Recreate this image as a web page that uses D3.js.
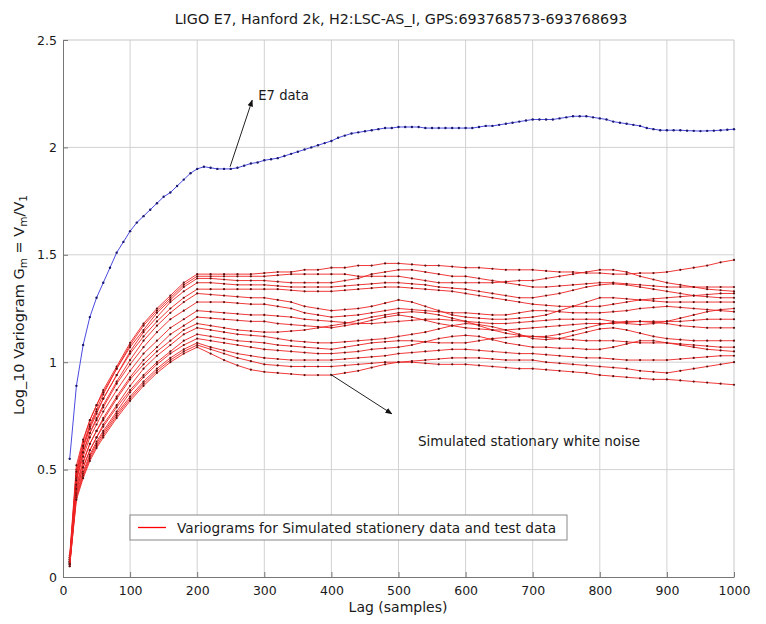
<!DOCTYPE html>
<html><head><meta charset="utf-8">
<script src="https://cdn.jsdelivr.net/npm/d3@7"></script>
<style>
body{margin:0;background:#fff}
text{font-family:"DejaVu Sans",Verdana,sans-serif;fill:#1a1a1a}
</style>
</head><body>
<svg id="c" width="766" height="624"></svg>
<script>
const titleText = "LIGO E7, Hanford 2k, H2:LSC-AS_I, GPS:693768573-693768693";
const xLabelText = "Lag (samples)";
const legendText = "Variograms for Simulated stationery data and test data";
const e7Label = "E7 data";
const noiseLabel = "Simulated stationary white noise";

const xTicks = [0,100,200,300,400,500,600,700,800,900,1000];
const yTicks = [0,0.5,1,1.5,2,2.5];
const yTickLabels = ["0","0.5","1","1.5","2","2.5"];

const e7Lag = [10,20,30,40,50,60,70,80,90,100,110,120,130,140,150,160,170,180,190,200,
210,220,230,240,250,260,270,280,290,300,310,320,330,340,350,360,370,380,390,400,
410,420,430,440,450,460,470,480,490,500,510,520,530,540,550,560,570,580,590,600,
610,620,630,640,650,660,670,680,690,700,710,720,730,740,750,760,770,780,790,800,
810,820,830,840,850,860,870,880,890,900,910,920,930,940,950,960,970,980,990,1000];
const e7Values = [0.55,0.89,1.08,1.21,1.30,1.37,1.44,1.51,1.56,1.61,
1.65,1.68,1.71,1.74,1.77,1.79,1.82,1.85,1.88,1.90,
1.91,1.905,1.90,1.90,1.90,1.905,1.915,1.925,1.93,1.94,
1.945,1.95,1.96,1.97,1.98,1.99,2.00,2.01,2.02,2.03,
2.045,2.055,2.065,2.07,2.075,2.08,2.085,2.09,2.09,2.095,
2.095,2.095,2.095,2.09,2.09,2.09,2.09,2.09,2.09,2.09,
2.09,2.095,2.10,2.10,2.105,2.11,2.115,2.12,2.125,2.13,
2.13,2.13,2.13,2.135,2.14,2.145,2.145,2.145,2.14,2.135,
2.13,2.12,2.115,2.11,2.105,2.10,2.09,2.085,2.08,2.08,
2.08,2.08,2.078,2.077,2.076,2.077,2.078,2.08,2.082,2.085];

const simLag = [10,20,30,40,50,60,80,100,120,140,160,180,
200,220,240,260,280,300,320,340,360,380,400,420,440,460,480,500,
520,540,560,580,600,620,640,660,680,700,720,740,760,780,800,
820,840,860,880,900,920,940,960,980,1000];

const simValues = [
[0.09,0.50,0.63,0.73,0.80,0.87,0.98,1.09,1.18,1.25,1.31,1.37, 1.41, 1.41,1.41,1.41,1.41,1.415, 1.42,1.42,1.43,1.43,1.44, 1.44,1.45,1.45,1.46,1.46, 1.455,1.45,1.45,1.445,1.44, 1.44,1.435,1.43,1.43,1.43, 1.425,1.42,1.42,1.415,1.415, 1.41,1.41,1.415,1.415,1.42, 1.43,1.44,1.45,1.465,1.476],
[0.08,0.48,0.61,0.71,0.78,0.85,0.97,1.08,1.17,1.24,1.30,1.36, 1.40, 1.40,1.40,1.40,1.40,1.40, 1.405,1.41,1.41,1.41,1.41, 1.41,1.40,1.40,1.40,1.40, 1.39,1.38,1.37,1.37,1.37, 1.37,1.37,1.375,1.38,1.38, 1.39,1.40,1.41,1.42,1.43, 1.43,1.42,1.40,1.385,1.37, 1.36,1.35,1.34,1.335,1.33],
[0.10,0.52,0.64,0.73,0.80,0.86,0.97,1.07,1.15,1.23,1.29,1.35, 1.39, 1.39,1.385,1.38,1.38,1.38, 1.375,1.37,1.37,1.37,1.37, 1.38,1.39,1.41,1.42,1.43, 1.43,1.42,1.41,1.40,1.40, 1.39,1.38,1.37,1.36,1.35, 1.35,1.355,1.36,1.365,1.37, 1.37,1.365,1.36,1.355,1.35, 1.35,1.35,1.35,1.35,1.35],
[0.07,0.47,0.60,0.69,0.76,0.83,0.94,1.05,1.14,1.21,1.28,1.33, 1.37, 1.37,1.365,1.36,1.36,1.36, 1.355,1.35,1.35,1.35,1.35, 1.355,1.36,1.365,1.37,1.37, 1.365,1.36,1.35,1.345,1.34, 1.33,1.32,1.31,1.30,1.30, 1.31,1.32,1.335,1.35,1.36, 1.365,1.36,1.35,1.34,1.33, 1.32,1.31,1.305,1.30,1.30],
[0.08,0.49,0.61,0.70,0.77,0.83,0.94,1.04,1.12,1.19,1.25,1.30, 1.34, 1.34,1.34,1.34,1.34,1.34, 1.34,1.335,1.33,1.33,1.33, 1.335,1.34,1.345,1.35,1.35, 1.345,1.34,1.335,1.33,1.32, 1.31,1.30,1.29,1.28,1.27, 1.265,1.26,1.26,1.26,1.26, 1.27,1.28,1.29,1.295,1.30, 1.305,1.31,1.315,1.32,1.32],
[0.06,0.45,0.58,0.67,0.74,0.80,0.91,1.01,1.10,1.17,1.23,1.28, 1.32, 1.315,1.31,1.305,1.30,1.30, 1.29,1.28,1.26,1.25,1.24, 1.245,1.25,1.26,1.275,1.29, 1.28,1.26,1.24,1.22,1.21, 1.205,1.20,1.20,1.205,1.21, 1.22,1.24,1.26,1.28,1.30, 1.30,1.295,1.29,1.285,1.28, 1.28,1.28,1.28,1.28,1.28],
[0.07,0.46,0.58,0.67,0.73,0.79,0.90,0.99,1.07,1.14,1.20,1.24, 1.28, 1.28,1.28,1.275,1.27,1.27, 1.26,1.25,1.23,1.22,1.21, 1.215,1.22,1.23,1.24,1.25, 1.245,1.24,1.235,1.23,1.23, 1.225,1.22,1.22,1.23,1.24, 1.24,1.235,1.23,1.23,1.23, 1.235,1.24,1.25,1.255,1.26, 1.255,1.25,1.245,1.24,1.235],
[0.09,0.45,0.56,0.65,0.71,0.77,0.87,0.96,1.04,1.10,1.16,1.20, 1.24, 1.235,1.23,1.225,1.22,1.22, 1.215,1.21,1.20,1.195,1.19, 1.185,1.18,1.18,1.185,1.19, 1.195,1.20,1.20,1.195,1.19, 1.185,1.18,1.18,1.185,1.19, 1.195,1.20,1.20,1.20,1.20, 1.19,1.18,1.175,1.18,1.19, 1.205,1.22,1.235,1.245,1.25],
[0.06,0.42,0.53,0.62,0.68,0.74,0.84,0.93,1.01,1.07,1.13,1.17, 1.21, 1.205,1.20,1.195,1.19,1.19, 1.18,1.175,1.17,1.165,1.16, 1.17,1.18,1.195,1.21,1.22, 1.21,1.195,1.18,1.17,1.16, 1.155,1.15,1.15,1.155,1.16, 1.165,1.17,1.175,1.18,1.18, 1.18,1.185,1.19,1.19,1.19, 1.19,1.195,1.20,1.20,1.20],
[0.07,0.43,0.54,0.62,0.68,0.73,0.83,0.92,0.99,1.05,1.10,1.15, 1.18, 1.17,1.16,1.15,1.145,1.14, 1.14,1.145,1.15,1.16,1.17, 1.18,1.195,1.21,1.22,1.23, 1.235,1.23,1.22,1.205,1.19, 1.17,1.15,1.135,1.125,1.12, 1.12,1.13,1.145,1.16,1.175, 1.185,1.19,1.19,1.185,1.18, 1.17,1.165,1.16,1.16,1.16],
[0.05,0.40,0.51,0.59,0.65,0.71,0.80,0.89,0.97,1.03,1.08,1.13, 1.16, 1.15,1.14,1.13,1.125,1.12, 1.11,1.10,1.095,1.09,1.09, 1.095,1.10,1.105,1.11,1.12, 1.13,1.14,1.155,1.17,1.18, 1.175,1.165,1.15,1.13,1.11, 1.105,1.11,1.125,1.14,1.155, 1.16,1.15,1.135,1.12,1.11, 1.105,1.10,1.10,1.10,1.10],
[0.08,0.41,0.51,0.59,0.65,0.70,0.79,0.87,0.94,1.00,1.05,1.10, 1.13, 1.12,1.11,1.10,1.095,1.09, 1.08,1.075,1.07,1.065,1.06, 1.07,1.08,1.09,1.095,1.10, 1.10,1.095,1.09,1.09,1.09, 1.10,1.11,1.115,1.12,1.12, 1.115,1.11,1.105,1.10,1.10, 1.10,1.095,1.09,1.09,1.09, 1.085,1.08,1.075,1.07,1.07],
[0.06,0.39,0.49,0.57,0.63,0.68,0.77,0.86,0.93,0.99,1.04,1.08, 1.11, 1.10,1.09,1.08,1.07,1.06, 1.055,1.05,1.045,1.04,1.04, 1.045,1.05,1.06,1.065,1.07, 1.08,1.095,1.11,1.12,1.125, 1.12,1.105,1.09,1.08,1.07, 1.07,1.065,1.065,1.06,1.06, 1.07,1.085,1.10,1.10,1.09, 1.08,1.07,1.06,1.055,1.05],
[0.07,0.38,0.48,0.56,0.62,0.67,0.76,0.84,0.91,0.97,1.02,1.06, 1.09, 1.07,1.055,1.04,1.03,1.02, 1.015,1.01,1.01,1.01,1.01, 1.015,1.02,1.025,1.03,1.04, 1.045,1.05,1.055,1.06,1.06, 1.055,1.05,1.045,1.04,1.04, 1.035,1.03,1.025,1.02,1.02, 1.015,1.01,1.01,1.01,1.01, 1.015,1.02,1.025,1.03,1.03],
[0.05,0.37,0.47,0.55,0.61,0.66,0.75,0.83,0.90,0.96,1.01,1.05, 1.08, 1.06,1.04,1.02,1.005,0.99, 0.985,0.98,0.98,0.98,0.98, 0.985,0.99,0.995,1.00,1.00, 1.005,1.01,1.015,1.02,1.02, 1.02,1.015,1.01,1.01,1.01, 1.00,0.995,0.99,0.985,0.98, 0.975,0.97,0.96,0.955,0.95, 0.96,0.97,0.98,0.99,1.00],
[0.06,0.36,0.46,0.54,0.60,0.65,0.74,0.82,0.89,0.95,1.00,1.04, 1.07, 1.04,1.01,0.985,0.965,0.955, 0.95,0.945,0.94,0.94,0.94, 0.95,0.96,0.975,0.99,1.00, 1.00,0.995,0.99,0.99,0.99, 0.985,0.98,0.975,0.97,0.97, 0.965,0.96,0.955,0.95,0.94, 0.935,0.93,0.925,0.92,0.92, 0.915,0.91,0.905,0.90,0.895]
];

// annotation anchors in data units
const e7Arrow = {from:[249,1.91], to:[282,2.22], text:[291,2.22]};
const noiseArrow = {from:[398,0.945], to:[490,0.76], text:[529,0.61]};

const svg = d3.select("#c");
const L = 63, R = 734, T = 40, B = 577;
const x = d3.scaleLinear().domain([0,1000]).range([L,R]);
const y = d3.scaleLinear().domain([0,2.5]).range([B,T]);
const FONT = "DejaVu Sans, Verdana, sans-serif";

// grid
const grid = svg.append("g");
grid.selectAll(".gx").data(xTicks.slice(1,-1)).join("line")
  .attr("x1",d=>x(d)).attr("x2",d=>x(d)).attr("y1",T).attr("y2",B)
  .attr("stroke","#d2d2d2").attr("stroke-width",1);
grid.selectAll(".gy").data(yTicks.slice(1,-1)).join("line")
  .attr("x1",L).attr("x2",R).attr("y1",d=>y(d)).attr("y2",d=>y(d))
  .attr("stroke","#d2d2d2").attr("stroke-width",1);

// box (top/right)
svg.append("line").attr("x1",L).attr("x2",R).attr("y1",T).attr("y2",T).attr("stroke","#c8c8c8");
svg.append("line").attr("x1",R).attr("x2",R).attr("y1",T).attr("y2",B).attr("stroke","#c8c8c8");

// axes
const xAxis = d3.axisBottom(x).tickValues(xTicks).tickSizeInner(-5).tickSizeOuter(0).tickPadding(9).tickFormat(d3.format("d"));
const gx = svg.append("g").attr("transform",`translate(0,${B})`).call(xAxis);
gx.select(".domain").attr("stroke","#777");
gx.selectAll(".tick line").attr("stroke","#777");
gx.selectAll("text").attr("font-size",12.5).attr("fill","#222").attr("font-family",FONT);

const yAxis = d3.axisLeft(y).tickValues(yTicks).tickSizeInner(-5).tickSizeOuter(0).tickPadding(6).tickFormat((d,i)=>yTickLabels[i]);
const gy = svg.append("g").attr("transform",`translate(${L},0)`).call(yAxis);
gy.select(".domain").attr("stroke","#777");
gy.selectAll(".tick line").attr("stroke","#777");
gy.selectAll("text").attr("font-size",12.5).attr("fill","#222").attr("font-family",FONT);

// lines
const line = d3.line().x(d=>x(d[0])).y(d=>y(d[1]));
const simG = svg.append("g");
simValues.forEach(vals=>{
  const pts = simLag.map((l,i)=>[l,vals[i]]).filter(p=>p[1]!==undefined);
  simG.append("path").attr("d",line(pts)).attr("fill","none")
    .attr("stroke","#ee2222").attr("stroke-width",1).attr("stroke-opacity",0.9);
  simG.append("g").selectAll("circle").data(pts).join("circle")
    .attr("cx",d=>x(d[0])).attr("cy",d=>y(d[1])).attr("r",1.1)
    .attr("fill","#5a1010");
});

const e7pts = e7Lag.map((l,i)=>[l,e7Values[i]]);
svg.append("path").attr("d",line(e7pts)).attr("fill","none")
  .attr("stroke","#4a4ae0").attr("stroke-width",1);
svg.append("g").selectAll("circle").data(e7pts).join("circle")
  .attr("cx",d=>x(d[0])).attr("cy",d=>y(d[1])).attr("r",1.2).attr("fill","#1a1a70");

// arrows
const defs = svg.append("defs");
defs.append("marker").attr("id","ah").attr("viewBox","0 0 10 10").attr("refX",9).attr("refY",5)
  .attr("markerWidth",7).attr("markerHeight",7).attr("orient","auto")
  .append("path").attr("d","M0,1 L10,5 L0,9 Z").attr("fill","#111");
[e7Arrow, noiseArrow].forEach(a=>{
  svg.append("line").attr("x1",x(a.from[0])).attr("y1",y(a.from[1]))
    .attr("x2",x(a.to[0])).attr("y2",y(a.to[1]))
    .attr("stroke","#222").attr("stroke-width",1).attr("marker-end","url(#ah)");
});
svg.append("text").attr("x",x(e7Arrow.text[0])).attr("y",y(e7Arrow.text[1]))
  .attr("font-size",13.2).text(e7Label);
svg.append("text").attr("x",x(noiseArrow.text[0])).attr("y",y(noiseArrow.text[1]))
  .attr("font-size",13.5).text(noiseLabel);

// legend
const lg = svg.append("g");
lg.append("rect").attr("x",130).attr("y",515).attr("width",437).attr("height",25)
  .attr("fill","#fff").attr("stroke","#888").attr("stroke-width",1);
lg.append("line").attr("x1",138).attr("x2",166).attr("y1",527.5).attr("y2",527.5)
  .attr("stroke","red").attr("stroke-width",1.3);
lg.append("text").attr("x",177).attr("y",532.5).attr("font-size",13.7).text(legendText);

// title and labels
svg.append("text").attr("x",401).attr("y",24).attr("text-anchor","middle")
  .attr("font-size",14.3).text(titleText);
svg.append("text").attr("x",398).attr("y",612).attr("text-anchor","middle")
  .attr("font-size",14).text(xLabelText);
const yl = svg.append("text").attr("transform","translate(24,305) rotate(-90)")
  .attr("text-anchor","middle").attr("font-size",14.5);
yl.append("tspan").text("Log_10 Variogram G");
yl.append("tspan").attr("font-size",10.5).attr("dy",3).text("m");
yl.append("tspan").attr("dy",-3).text(" = V");
yl.append("tspan").attr("font-size",10.5).attr("dy",3).text("m");
yl.append("tspan").attr("dy",-3).text("/V");
yl.append("tspan").attr("font-size",10.5).attr("dy",3).text("1");
</script>
</body></html>
